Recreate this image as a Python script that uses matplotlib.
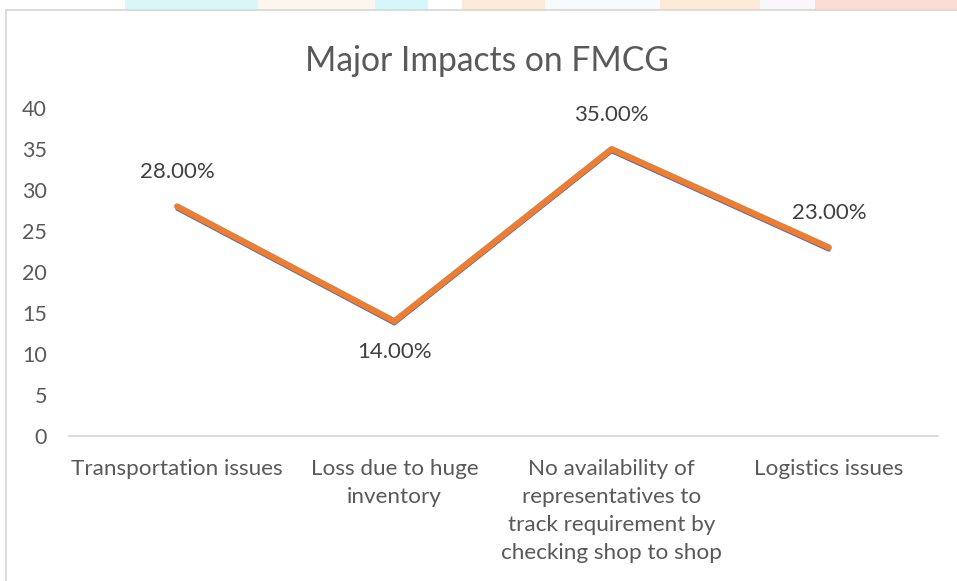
import matplotlib
matplotlib.use("Agg")
import matplotlib.pyplot as plt
from matplotlib import font_manager
from matplotlib.patches import Rectangle
import matplotlib.transforms as mtransforms

categories = ["Transportation issues",
              "Loss due to huge\ninventory",
              "No availability of\nrepresentatives to\ntrack requirement by\nchecking shop to shop",
              "Logistics issues"]
values = [28, 14, 35, 23]
value_labels = ["28.00%", "14.00%", "35.00%", "23.00%"]
label_above = [True, False, True, True]
yticks = [0, 5, 10, 15, 20, 25, 30, 35, 40]
title = "Major Impacts on FMCG"

names = {f.name for f in font_manager.fontManager.ttflist}
font = "Lato" if "Lato" in names else "DejaVu Sans"
plt.rcParams["font.family"] = [font, "DejaVu Sans"]

W, H = 957, 581
fig = plt.figure(figsize=(W / 100, H / 100), dpi=100)
fig.patch.set_facecolor("white")

# faint watermark strip above chart frame
strip = [(125, 258, "#d9f7f9"), (258, 375, "#fdf6ef"), (375, 428, "#d6f7f9"),
         (462, 545, "#fdebda"), (545, 660, "#f7fbfd"), (660, 760, "#fdebd7"),
         (760, 815, "#f9f7fa"), (815, 957, "#fddcd6")]
for x0, x1, c in strip:
    fig.add_artist(Rectangle((x0 / W, (H - 9.5) / H), (x1 - x0) / W, 9.5 / H,
                             transform=fig.transFigure, color=c, lw=0, zorder=0))
# chart frame border (top and left)
fig.add_artist(plt.Line2D([5.5 / W, 1.0], [(H - 9.5) / H, (H - 9.5) / H],
                          transform=fig.transFigure, color="#d9d9d9", lw=1.3))
fig.add_artist(plt.Line2D([5.5 / W, 5.5 / W], [0, (H - 9.5) / H],
                          transform=fig.transFigure, color="#d9d9d9", lw=1.3))

left, right = 68.5 / W, 937.5 / W
bottom, top = (H - 436) / H, (H - 108) / H
ax = fig.add_axes([left, bottom, right - left, top - bottom])
ax.set_facecolor("none")

x = list(range(len(categories)))
offset = mtransforms.offset_copy(ax.transData, fig=fig, x=0, y=-2.5, units="dots")
ax.plot(x, values, color="#4472c4", lw=2.6, transform=offset,
        solid_capstyle="round", solid_joinstyle="round", zorder=3)
ax.plot(x, values, color="#ed7d31", lw=4.4,
        solid_capstyle="round", solid_joinstyle="round", zorder=4)

for xi, v, lab, up in zip(x, values, value_labels, label_above):
    ax.annotate(lab, (xi, v), xytext=(0, 24.5 if up else -22.5),
                textcoords="offset points", ha="center", va="center",
                fontsize=16, color="#404040")

ax.set_xlim(-0.5, len(categories) - 0.5)
ax.set_ylim(0, 40)
ax.set_yticks(yticks)
ax.set_yticklabels([str(t) for t in yticks])
ax.set_xticks(x)
ax.set_xticklabels(categories, linespacing=1.5)
ax.tick_params(axis="y", length=0, pad=15.5, labelsize=15.5, labelcolor="#595959")
ax.tick_params(axis="x", length=0, pad=16.8, labelsize=16.2, labelcolor="#595959")
for s in ["top", "right", "left"]:
    ax.spines[s].set_visible(False)
ax.spines["bottom"].set_color("#d9d9d9")
ax.spines["bottom"].set_linewidth(1.3)

fig.text(486.5 / W, (H - 71) / H, title, ha="center", va="baseline",
         fontsize=24.2, color="#595959")

fig.savefig("out.png", dpi=100, facecolor="white")
